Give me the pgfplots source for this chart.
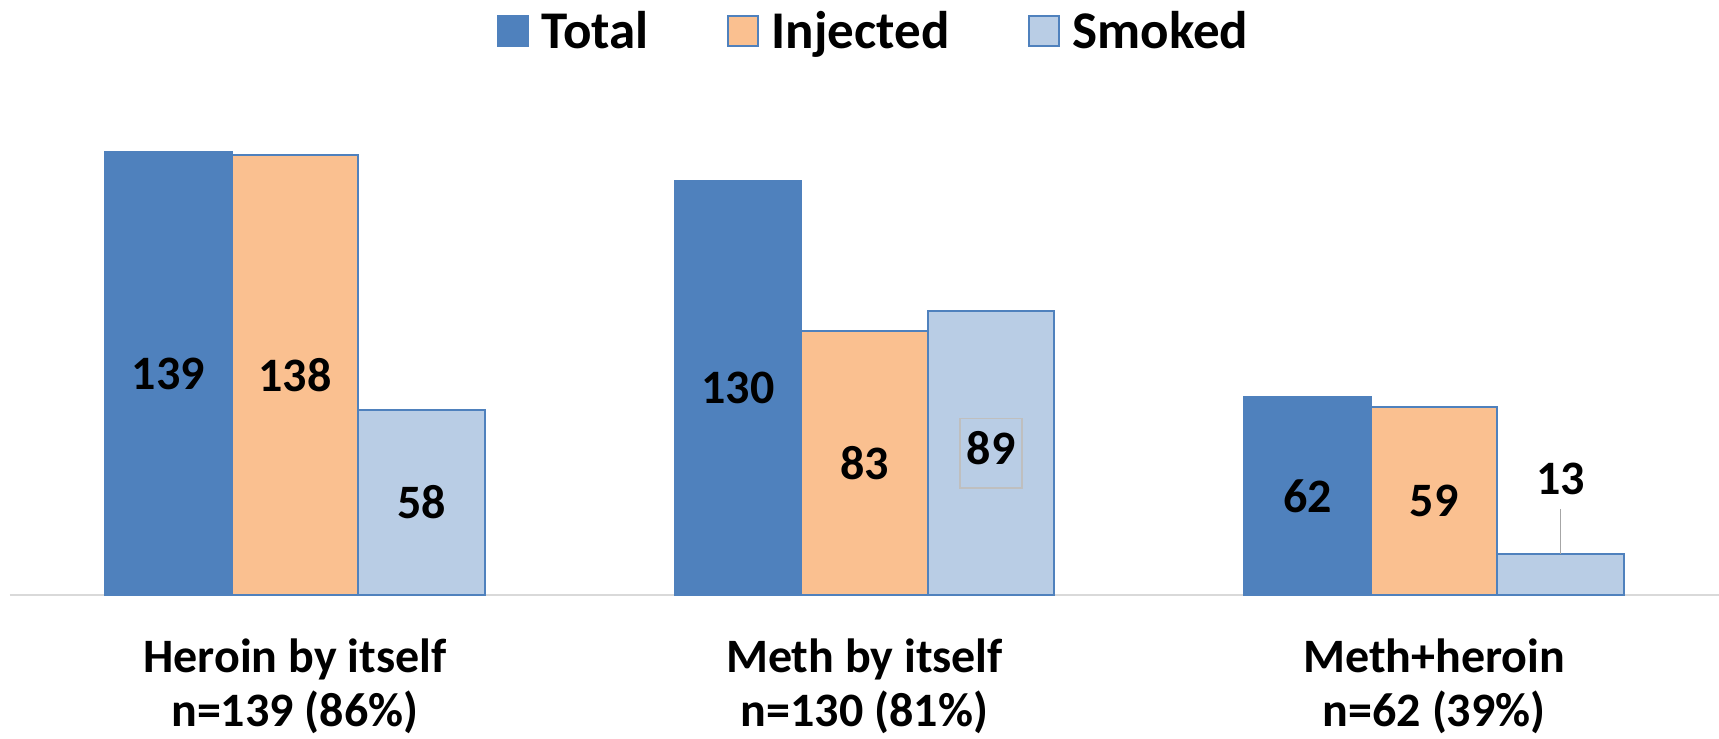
\documentclass[border=0pt]{standalone}
\usepackage{pgfplots}
\pgfplotsset{compat=1.18}
\usepackage{fontspec}
\setmainfont{Carlito}
\definecolor{cTotal}{HTML}{4F81BD}
\definecolor{cInj}{HTML}{FAC090}
\definecolor{cSmk}{HTML}{B9CDE5}
\definecolor{cAxis}{HTML}{D9D9D9}
\definecolor{cLead}{HTML}{A6A6A6}
\definecolor{cBox}{HTML}{BFBFBF}
\begin{document}
\begin{tikzpicture}
\useasboundingbox (0,0) rectangle (859.5pt,369.5pt);
\begin{axis}[
  at={(5pt,72pt)}, anchor=south west,
  scale only axis, width=854.5pt, height=239pt,
  ybar=0pt, bar width=63.25pt,
  xmin=-0.5, xmax=2.5, ymin=0, ymax=150,
  axis x line*=bottom, axis y line=none,
  x axis line style={draw=cAxis, line width=1pt, -},
  xtick={0,1,2},
  xticklabels={{Heroin by itself\\n=139 (86\%)},{Meth by itself\\n=130 (81\%)},{Meth+heroin\\n=62 (39\%)}},
  xticklabel style={align=center, font=\fontsize{24}{27}\selectfont\bfseries, inner sep=0pt, anchor=north, yshift=-21.5pt},
  major tick length=0pt,
  xtick style={draw=none},
  /pgf/number format/assume math mode=true,
  visualization depends on={y \as \rawy},
  nodes near coords={\pgfmathtruncatemacro\isbox{abs(\rawy-89)<0.5}\ifnum\isbox=1 \setlength{\fboxsep}{3pt}\setlength{\fboxrule}{0.75pt}\fcolorbox{cBox}{cSmk}{\strut 89}\else\pgfmathprintnumber[assume math mode=true]{\rawy}\fi},
  every node near coord/.append style={font=\fontsize{24}{28}\selectfont\bfseries, text=black, anchor=center, inner sep=0pt,
     shift={(axis direction cs:0,{\rawy<20 ? 23.5 : -\rawy/2})}},
  legend columns=3,
  legend style={draw=none, fill=none, at={(axis description cs:0.5058,1)}, anchor=center, yshift=43pt,
     font=\fontsize{26.5}{31}\selectfont\bfseries, nodes={inner sep=2pt},
     /tikz/every odd column/.append style={column sep=4.5pt},
     /tikz/every even column/.append style={column sep=37pt}},
  clip=false,
]
\addplot[fill=cTotal, draw=cTotal, line width=1pt,
  legend image code/.code={\draw[fill=cTotal, draw=cTotal] (0pt,-7.5pt) rectangle (15pt,7.5pt);}]
  coordinates {(0,139) (1,130) (2,62)};
\addplot[fill=cInj, draw=cTotal, line width=1pt,
  legend image code/.code={\draw[fill=cInj, draw=cTotal, line width=1pt] (0pt,-7.5pt) rectangle (15pt,7.5pt);}]
  coordinates {(0,138) (1,83) (2,59)};
\addplot[fill=cSmk, draw=cTotal, line width=1pt,
  legend image code/.code={\draw[fill=cSmk, draw=cTotal, line width=1pt] (0pt,-7.5pt) rectangle (15pt,7.5pt);},
  error bars/.cd, y dir=plus, y explicit, error mark=none,
  error bar style={draw=cLead, line width=0.75pt}]
  coordinates {(0,58) +- (0,0) (1,89) +- (0,0) (2,13) +- (0,14)};
\legend{Total,Injected,Smoked}
\end{axis}
\end{tikzpicture}
\end{document}
